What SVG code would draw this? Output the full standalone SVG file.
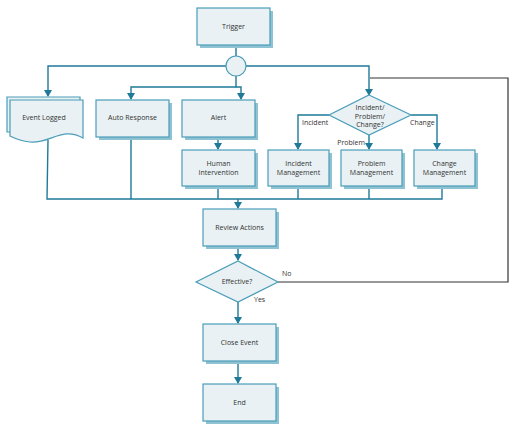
<svg xmlns="http://www.w3.org/2000/svg" width="515" height="428" viewBox="0 0 515 428">
<defs>
<style>
.box{fill:#e9f1f4;stroke:#4a9db8;stroke-width:1.2}
.sh{fill:#8fc2d3}
.ln{fill:none;stroke:#1f7a99;stroke-width:1.4}
.dk{fill:none;stroke:#333;stroke-width:1.2}
.t{font-family:"Open Sans","Liberation Sans",sans-serif;font-size:7px;fill:#333;text-anchor:middle}
.l{font-family:"Open Sans","Liberation Sans",sans-serif;font-size:7px;fill:#333}
</style>
<marker id="ar" markerWidth="8" markerHeight="8" refX="6" refY="4" orient="auto" markerUnits="userSpaceOnUse">
<path d="M0,0 L7,4 L0,8 Z" fill="#1f7a99"/>
</marker>
</defs>
<rect width="515" height="428" fill="#fff"/>
<g id="connectors">
<line class="ln" x1="236" y1="45" x2="236" y2="56"/>
<polyline class="ln" points="226,66 48,66 48,96" marker-end="url(#ar)"/>
<polyline class="ln" points="246,66 369,66 369,95" marker-end="url(#ar)"/>
<polyline class="ln" points="236,76 236,87 131,87 131,99" marker-end="url(#ar)"/>
<polyline class="ln" points="236,87 241,87 241,99" marker-end="url(#ar)"/>
<line class="ln" x1="218" y1="137" x2="218" y2="149" marker-end="url(#ar)"/>
<polyline class="ln" points="329,115 298,115 298,149" marker-end="url(#ar)"/>
<polyline class="ln" points="411,115 437,115 437,149" marker-end="url(#ar)"/>
<line class="ln" x1="369" y1="135" x2="369" y2="149" marker-end="url(#ar)"/>
<polyline class="ln" points="48,140 47,199 442,199 442,186"/>
<line class="ln" x1="131" y1="137" x2="131" y2="199"/>
<line class="ln" x1="218" y1="186" x2="218" y2="199"/>
<line class="ln" x1="298" y1="186" x2="298" y2="199"/>
<line class="ln" x1="369" y1="186" x2="369" y2="199"/>
<line class="ln" x1="238" y1="199" x2="238" y2="208" marker-end="url(#ar)"/>
<line class="ln" x1="238" y1="247" x2="238" y2="260" marker-end="url(#ar)"/>
<line class="ln" x1="238" y1="302" x2="238" y2="323" marker-end="url(#ar)"/>
<line class="ln" x1="238" y1="361" x2="238" y2="383" marker-end="url(#ar)"/>
<polyline class="dk" points="278,282 508,282 508,78 370,78"/>
<text class="l" x="302" y="125">Incident</text>
<text class="l" x="410" y="125">Change</text>
<text class="l" x="365" y="145" text-anchor="end">Problem</text>
<text class="l" x="282" y="276">No</text>
<text class="l" x="254" y="302">Yes</text>
</g>
<g id="trigger">
<rect class="sh" x="200" y="11" width="73" height="37"/>
<rect class="box" x="197" y="8" width="73" height="37"/>
<text class="t" x="233.5" y="29">Trigger</text>
</g>
<g id="fork">
<circle class="box" cx="236" cy="66" r="10"/>
</g>
<g id="event-logged">
<path class="box" d="M7,97 H80 V132 H7 Z"/>
<path class="box" d="M10,100 H83 V138 C62,126 50,144 30,142 C20,141 14,138 10,136 Z"/>
<text class="t" x="44" y="120">Event Logged</text>
</g>
<g id="auto-response">
<rect class="sh" x="99" y="103" width="73" height="37"/>
<rect class="box" x="96" y="100" width="73" height="37"/>
<text class="t" x="132.5" y="120">Auto Response</text>
</g>
<g id="alert">
<rect class="sh" x="185" y="103" width="73" height="37"/>
<rect class="box" x="182" y="100" width="73" height="37"/>
<text class="t" x="218.5" y="120">Alert</text>
</g>
<g id="decision-type">
<polygon class="box" points="369,95 411,115 369,135 329,115"/>
<text class="t" x="370" y="110">Incident/</text>
<text class="t" x="370" y="118.5">Problem/</text>
<text class="t" x="370" y="127">Change?</text>
</g>
<g id="human-intervention">
<rect class="sh" x="185" y="153" width="73" height="36"/>
<rect class="box" x="182" y="150" width="73" height="36"/>
<text class="t" x="218.5" y="166">Human</text>
<text class="t" x="218.5" y="175">Intervention</text>
</g>
<g id="incident-management">
<rect class="sh" x="271" y="153" width="61" height="36"/>
<rect class="box" x="268" y="150" width="61" height="36"/>
<text class="t" x="298.5" y="166">Incident</text>
<text class="t" x="298.5" y="175">Management</text>
</g>
<g id="problem-management">
<rect class="sh" x="344" y="153" width="61" height="36"/>
<rect class="box" x="341" y="150" width="61" height="36"/>
<text class="t" x="371.5" y="166">Problem</text>
<text class="t" x="371.5" y="175">Management</text>
</g>
<g id="change-management">
<rect class="sh" x="417" y="153" width="61" height="36"/>
<rect class="box" x="414" y="150" width="61" height="36"/>
<text class="t" x="444.5" y="166">Change</text>
<text class="t" x="444.5" y="175">Management</text>
</g>
<g id="review-actions">
<rect class="sh" x="206" y="212" width="73" height="37"/>
<rect class="box" x="203" y="209" width="73" height="37"/>
<text class="t" x="239.5" y="230">Review Actions</text>
</g>
<g id="effective">
<polygon class="box" points="238,261 278,282 238,302 196,282"/>
<text class="t" x="237" y="284">Effective?</text>
</g>
<g id="close-event">
<rect class="sh" x="206" y="327" width="73" height="37"/>
<rect class="box" x="203" y="324" width="73" height="37"/>
<text class="t" x="239.5" y="345">Close Event</text>
</g>
<g id="end">
<rect class="sh" x="206" y="387" width="73" height="37"/>
<rect class="box" x="203" y="384" width="73" height="37"/>
<text class="t" x="239.5" y="405">End</text>
</g>
</svg>
